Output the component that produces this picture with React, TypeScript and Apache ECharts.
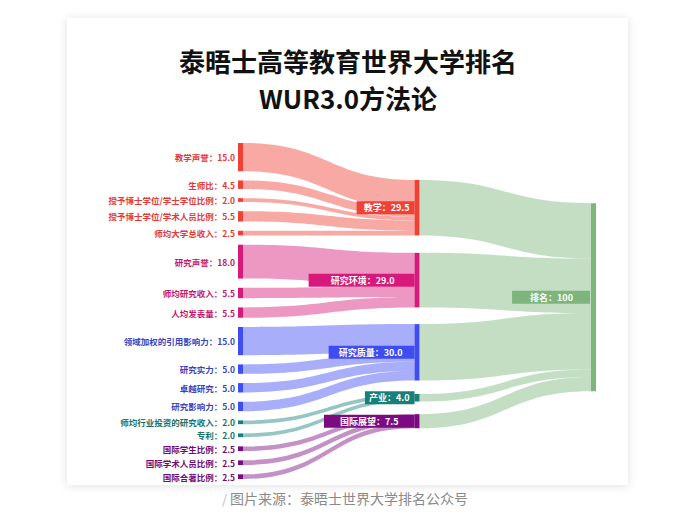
import React, { useEffect, useRef } from 'react';
import * as echarts from 'echarts';

// ---------- data ----------
const titleText = '泰晤士高等教育世界大学排名\nWUR3.0方法论';
const captionText = '图片来源：泰晤士世界大学排名公众号';

const overallName = '排名';
const overallValue = 100;

const pillarNames = ['教学', '研究环境', '研究质量', '产业', '国际展望'];
const pillarValues = [29.5, 29.0, 30.0, 4.0, 7.5];

const metricNames = [
  '教学声誉',
  '生师比',
  '授予博士学位/学士学位比例',
  '授予博士学位/学术人员比例',
  '师均大学总收入',
  '研究声誉',
  '师均研究收入',
  '人均发表量',
  '领域加权的引用影响力',
  '研究实力',
  '卓越研究',
  '研究影响力',
  '师均行业投资的研究收入',
  '专利',
  '国际学生比例',
  '国际学术人员比例',
  '国际合著比例',
];
const metricValues = [15.0, 4.5, 2.0, 5.5, 2.5, 18.0, 5.5, 5.5, 15.0, 5.0, 5.0, 5.0, 2.0, 2.0, 2.5, 2.5, 2.5];
const metricPillar = [0, 0, 0, 0, 0, 1, 1, 1, 2, 2, 2, 2, 3, 3, 4, 4, 4];

// ---------- styles / layout ----------
const FONT = '"Noto Sans CJK SC", "Noto Sans", sans-serif';
const pillarColors = ['#ef4136', '#d6197a', '#3f4cf2', '#17807a', '#7c0a80'];
const pillarTextColors = ['#e23b36', '#c4176d', '#3a44bd', '#17736b', '#730b76'];
const overallColor = '#7db57d';
const pillarLocalY = [0.11, 0.327, 0.539, 0.747, 0.807];
const overallLocalY = 0.179;
const pillarLabelPadding = [
  [2, 5, 2, 7],
  [2, 20, 2, 22],
  [2, 12, 2, 10],
  [2, 5, 2, 4],
  [2, 16, 2, 16],
];
const overallLabelPadding = [2, 17, 2, 18];

const fmt = (v: number) => (v >= overallValue ? String(v) : v.toFixed(1));

export default function App() {
  const ref = useRef<HTMLDivElement>(null);

  useEffect(() => {
    if (!ref.current) return;
    const chart = echarts.init(ref.current, null, { renderer: 'svg' });

    const nodes: any[] = [];
    metricNames.forEach((n, i) => {
      const p = metricPillar[i];
      nodes.push({
        name: n,
        itemStyle: { color: pillarColors[p] },
        label: { color: pillarTextColors[p] },
      });
    });
    pillarNames.forEach((n, i) => {
      nodes.push({
        name: n,
        localY: pillarLocalY[i],
        itemStyle: { color: pillarColors[i] },
        label: {
          color: '#ffffff',
          fontSize: 9,
          backgroundColor: pillarColors[i],
          padding: pillarLabelPadding[i],
          distance: 0,
        },
      });
    });
    nodes.push({
      name: overallName,
      localY: overallLocalY,
      itemStyle: { color: overallColor },
      label: {
        color: '#ffffff',
        fontSize: 9,
        backgroundColor: overallColor,
        padding: overallLabelPadding,
        distance: 1,
      },
    });

    const links: any[] = [];
    metricNames.forEach((n, i) => {
      links.push({ source: n, target: pillarNames[metricPillar[i]], value: metricValues[i] });
    });
    pillarNames.forEach((n, i) => {
      links.push({ source: n, target: overallName, value: pillarValues[i] });
    });

    chart.setOption({
      animation: false,
      backgroundColor: '#ffffff',
      title: {
        text: titleText,
        left: 343,
        top: 37,
        textAlign: 'center',
        textStyle: {
          fontFamily: FONT,
          fontSize: 26,
          fontWeight: 'bold',
          lineHeight: 37,
          color: '#111111',
        },
      },
      graphic: [
        {
          type: 'rect',
          z: -10,
          shape: { x: 67, y: 18, width: 561, height: 467 },
          style: {
            fill: '#ffffff',
            shadowBlur: 10,
            shadowColor: 'rgba(0,0,0,0.12)',
            shadowOffsetY: 1,
          },
          silent: true,
        },
        {
          type: 'text',
          x: 222,
          y: 498,
          style: {
            text: '{s|/ }{t|' + captionText + '}',
            verticalAlign: 'middle',
            rich: {
              s: { fontFamily: FONT, fontSize: 13, fill: '#bbbbbb', color: '#bbbbbb' },
              t: { fontFamily: FONT, fontSize: 14, fill: '#8a8a8a', color: '#8a8a8a' },
            },
          },
        },
      ],
      series: [
        {
          type: 'sankey',
          left: 238,
          top: 143,
          width: 358,
          height: 336,
          nodeWidth: 5,
          nodeGap: 9.25,
          layoutIterations: 0,
          draggable: false,
          emphasis: { disabled: true },
          label: {
            position: 'left',
            distance: 3,
            fontSize: 8.5,
            fontWeight: 'bold',
            fontFamily: FONT,
            formatter: (p: any) => p.name + '：' + fmt(p.value),
          },
          lineStyle: { color: 'target', opacity: 0.45, curveness: 0.5 },
          itemStyle: { borderWidth: 0 },
          data: nodes,
          links: links,
        },
      ],
    });

    return () => chart.dispose();
  }, []);

  return (
    <div
      ref={ref}
      style={{ position: 'absolute', left: 0, top: 0, width: 675, height: 524 }}
    />
  );
}
